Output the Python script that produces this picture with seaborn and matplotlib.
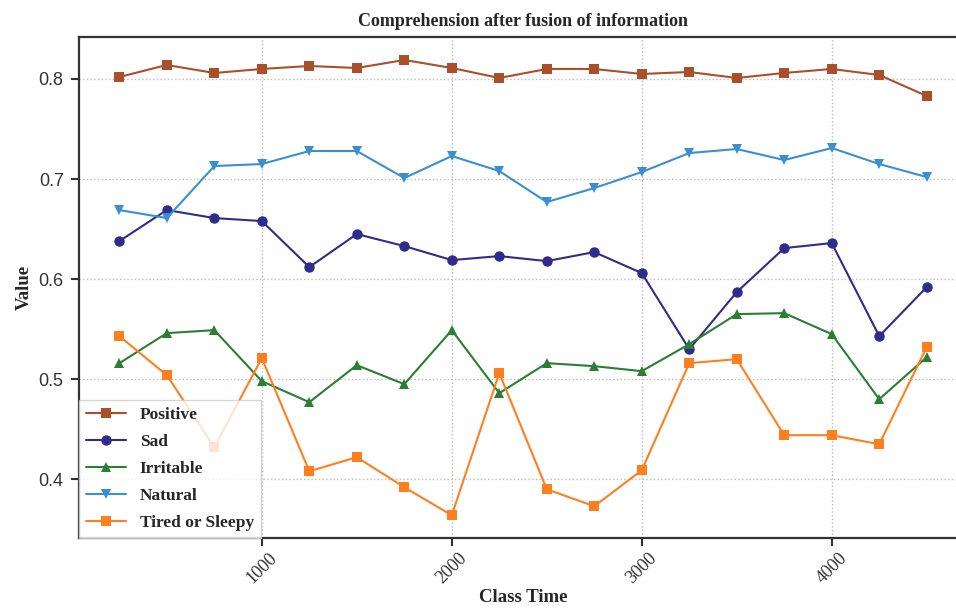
import matplotlib
matplotlib.use("Agg")
import matplotlib.pyplot as plt
import seaborn as sns
import pandas as pd

# Class time checkpoints
class_time = [250, 500, 750, 1000, 1250, 1500, 1750, 2000, 2250,
              2500, 2750, 3000, 3250, 3500, 3750, 4000, 4250, 4500]

positive = [0.802, 0.814, 0.806, 0.810, 0.813, 0.811, 0.819, 0.811, 0.801,
            0.810, 0.810, 0.805, 0.807, 0.801, 0.806, 0.810, 0.804, 0.783]
sad = [0.638, 0.669, 0.661, 0.658, 0.612, 0.645, 0.633, 0.619, 0.623,
       0.618, 0.627, 0.606, 0.530, 0.587, 0.631, 0.636, 0.543, 0.592]
irritable = [0.516, 0.546, 0.549, 0.498, 0.477, 0.514, 0.495, 0.549, 0.486,
             0.516, 0.513, 0.508, 0.535, 0.565, 0.566, 0.545, 0.480, 0.522]
natural = [0.669, 0.661, 0.713, 0.715, 0.728, 0.728, 0.701, 0.723, 0.708,
           0.677, 0.691, 0.707, 0.726, 0.730, 0.719, 0.731, 0.715, 0.702]
tired = [0.543, 0.504, 0.432, 0.521, 0.408, 0.422, 0.392, 0.364, 0.506,
         0.390, 0.373, 0.409, 0.516, 0.520, 0.444, 0.444, 0.435, 0.532]

labels = ["Positive", "Sad", "Irritable", "Natural", "Tired or Sleepy"]
series = [positive, sad, irritable, natural, tired]
colors = ["#a9502a", "#302b8c", "#2b7e33", "#3a8fd3", "#ff7f1e"]
markers = ["s", "o", "^", "v", "s"]

frames = [pd.DataFrame({"Class Time": class_time, "Value": vals, "Emotion": lab})
          for lab, vals in zip(labels, series)]
df = pd.concat(frames, ignore_index=True)

sns.set_theme(style="ticks", rc={
    "xtick.major.size": 6, "ytick.major.size": 6,
    "xtick.major.width": 1.5, "ytick.major.width": 1.5,
    "xtick.bottom": True, "ytick.left": True,
    "xtick.color": "#333333", "ytick.color": "#333333",
})
plt.rcParams["font.family"] = ["Liberation Serif", "DejaVu Serif"]

fig = plt.figure(figsize=(9.56, 6.10), dpi=100)
ax = fig.add_axes([0.0826, 0.118, 0.929, 0.821])

sns.lineplot(data=df, x="Class Time", y="Value", hue="Emotion", style="Emotion",
             hue_order=labels, style_order=labels,
             palette=dict(zip(labels, colors)), markers=dict(zip(labels, markers)),
             dashes=False, markersize=7.5, linewidth=1.5, markeredgewidth=0,
             ax=ax)

ax.set_xticks([1000, 2000, 3000, 4000])
ax.set_yticks([0.4, 0.5, 0.6, 0.7, 0.8])
ax.set_yticklabels(["0.4", "0.5", "0.6", "0.7", "0.8"],
                   fontfamily="Liberation Sans", fontsize=13)
for t in ax.get_xticklabels():
    t.set_rotation(45)
    t.set_fontsize(13)
ax.tick_params(axis="y", pad=5)
ax.tick_params(axis="x", pad=2)
ax.grid(True, linestyle=":", color="#bbbbbb", linewidth=1.0)

for sp in ax.spines.values():
    sp.set_visible(True)
    sp.set_color("#333333")
    sp.set_linewidth(1.6)

ax.set_title("Comprehension after fusion of information", fontsize=13,
             fontweight="bold", pad=8)
ax.set_xlabel("Class Time", fontsize=13.5, fontweight="bold", labelpad=2)
ax.set_ylabel("Value", fontsize=13.5, fontweight="bold")

leg = ax.legend(loc="lower left", borderaxespad=0,
                frameon=True, framealpha=0.8, edgecolor="#cccccc",
                fancybox=False, handlelength=2.3, labelspacing=0.62,
                prop={"weight": "bold", "size": 12.5})

fig.savefig("out.png", dpi=100)
